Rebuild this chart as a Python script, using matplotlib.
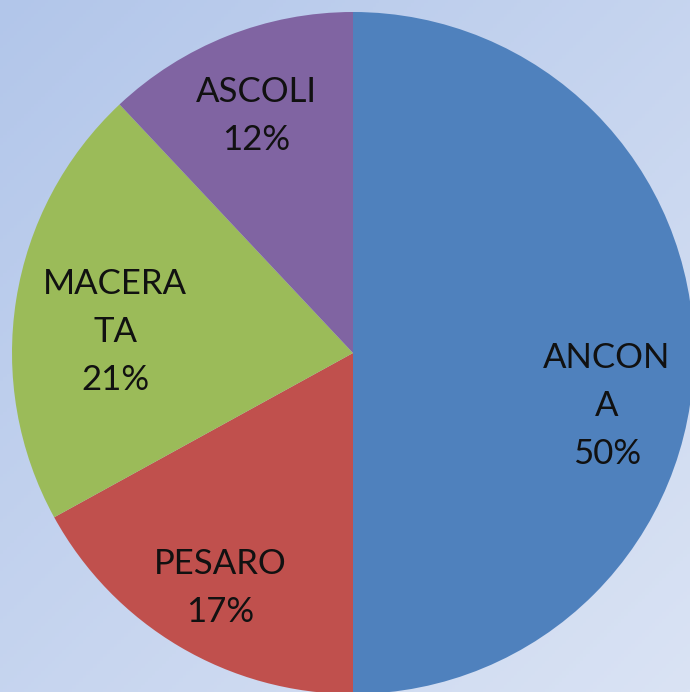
import numpy as np
import matplotlib
matplotlib.use("Agg")
import matplotlib.pyplot as plt

labels = ["ANCON\nA", "PESARO", "MACERA\nTA", "ASCOLI"]
values = [50, 17, 21, 12]
colors = ["#4f81bd", "#c0504d", "#9bbb59", "#8064a2"]

W, H = 690, 692
fig = plt.figure(figsize=(W / 100, H / 100), dpi=100)
ax = fig.add_axes([0, 0, 1, 1])

# gradient background (top-left darker blue -> bottom-right lighter)
yy, xx = np.mgrid[0:1:200j, 0:1:200j]
t = (xx + yy) / 2.0
c0 = np.array([178, 198, 234]) / 255.0
c1 = np.array([218, 227, 244]) / 255.0
img = c0[None, None, :] * (1 - t[..., None]) + c1[None, None, :] * t[..., None]
ax.imshow(img, extent=[0, W, 0, H], origin="upper", aspect="auto", zorder=0)

cx, cy, r = 353, H - 353, 341
wedges, _ = ax.pie(values, colors=colors, startangle=90, counterclock=False,
                   center=(cx, cy), radius=r, frame=True,
                   wedgeprops=dict(linewidth=0))
for w in wedges:
    w.set_zorder(2)
ax.set_xlim(0, W)
ax.set_ylim(0, H)
ax.set_aspect("auto")
ax.axis("off")

label_pos = [(607, 406), (220, 588), (115, 332), (256, 116)]
pcts = [f"{v}%" for v in values]
for lab, pct, (x, y) in zip(labels, pcts, label_pos):
    ax.text(x, H - y, f"{lab}\n{pct}", ha="center", va="center",
            fontsize=25, family="Lato", linespacing=1.63, color="#111111",
            zorder=5)

fig.savefig("out.png", dpi=100)
